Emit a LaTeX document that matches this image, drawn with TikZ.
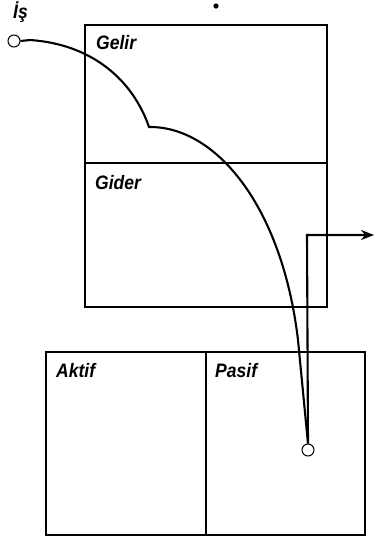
\documentclass[tikz,border=0pt]{standalone}
\usepackage{fontspec}
\newfontfamily\lblfont[FakeStretch=0.9]{Liberation Sans}
\usetikzlibrary{arrows.meta}
\begin{document}
\begin{tikzpicture}[x=1pt,y=-1pt,
  box/.style={draw,line width=1.2pt},
  lbl/.style={anchor=base west,inner sep=0pt,font=\lblfont\bfseries\itshape\fontsize{19.5}{19.5}\selectfont},
  flow/.style={line width=2.1pt},
  port/.style={circle,draw,fill=white,line width=1pt,minimum size=12pt,inner sep=0pt}]
\useasboundingbox (0,0) rectangle (375,542);
% top box
\draw[box] (85,25) rectangle (327,307);
\draw[box] (85,163) -- (327,163);
% bottom box
\draw[box] (46,352) rectangle (365,535);
\draw[box] (206,352) -- (206,535);
% labels
\node[lbl] (gelir) at (96,49) {Gelir};
\node[lbl] (gider) at (95,189) {Gider};
\node[lbl] (aktif) at (56,377) {Aktif};
\node[lbl] (pasif) at (215,377) {Pasif};
\node[lbl] (is) at (13,18) {İş};
% small dot at top
\fill (216,6) circle (2.6pt);
% ports
\node[port] (start) at (14,41) {};
\node[port] (end) at (308,450) {};
\coordinate (kink) at (149,127);
\coordinate (out) at (374,235);
\coordinate (corner) at (307,235);
% curve
\draw[flow] (start.east) -- (30,40) .. controls (90,44) and (132,78) .. (kink)
  .. controls (215,126) and (282,205) .. (298,340) -- (end.north);
% outgoing
\draw[flow,-{Stealth[length=13pt,width=10pt]}] (end.north) -- (corner) -- (out);
\end{tikzpicture}
\end{document}
